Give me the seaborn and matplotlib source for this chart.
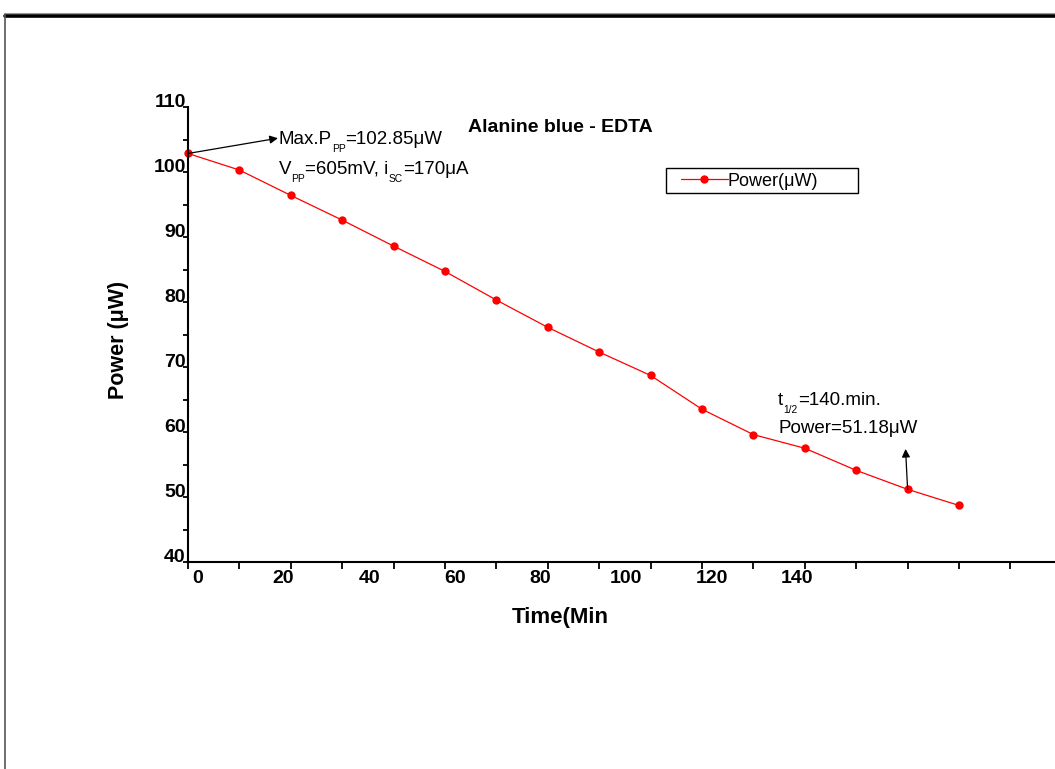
import matplotlib
matplotlib.use("Agg")
import matplotlib.pyplot as plt
from matplotlib.lines import Line2D
from matplotlib.patches import Rectangle
import seaborn as sns
import pandas as pd

# Power decay of the Alanine blue - EDTA photogalvanic cell
time_min = [0, 10, 20, 30, 40, 50, 60, 70, 80, 90, 100, 110, 120, 130, 140, 150]
power_uw = [102.85, 100.3, 96.4, 92.6, 88.6, 84.7, 80.3, 76.1, 72.3, 68.7,
            63.5, 59.6, 57.5, 54.1, 51.18, 48.7]

y_ticks = [40, 50, 60, 70, 80, 90, 100, 110]
x_tick_labels = ["0", "20", "40", "60", "80", "100", "120", "140"]

sns.set_theme(style="ticks")
plt.rcParams["font.family"] = ["Liberation Sans", "DejaVu Sans"]
for key in ("text.color", "axes.labelcolor", "xtick.color", "ytick.color"):
    plt.rcParams[key] = "black"

W, H = 1055, 769
fig = plt.figure(figsize=(W / 100, H / 100), dpi=100)
fig.patch.set_facecolor("white")

# axes: x=0 at px 188, 10 min = 51.4 px; y=40 at px 562, y=110 at px 107
x0, x1 = 0, 170
left_px, right_px = 188, 188 + 5.14 * (x1 - x0)
bottom_px, top_px = 562, 107
ax = fig.add_axes([left_px / W, 1 - bottom_px / H,
                   (right_px - left_px) / W, (bottom_px - top_px) / H])

df = pd.DataFrame({"Time(Min": time_min, "Power(μW)": power_uw})
sns.lineplot(data=df, x="Time(Min", y="Power(μW)", ax=ax, color="#ff0000",
             linewidth=0.9, marker="o", markersize=6, markeredgewidth=0,
             label="Power(μW)", clip_on=False)

ax.set_xlim(x0, x1)
ax.set_ylim(40, 110)

sns.despine(ax=ax)
for side in ("left", "bottom"):
    ax.spines[side].set_linewidth(1.5)
    ax.spines[side].set_color("black")

# x axis: tick marks every 10 min, labels spaced independently
ax.set_xticks(list(range(0, 170, 10)))
ax.set_xticklabels([])
ax.tick_params(axis="x", which="major", direction="out", length=5, width=1.3,
               color="black")
label_pos = [1.95 + 16.65 * i for i in range(len(x_tick_labels))]
ax.set_xticks(label_pos, labels=x_tick_labels, minor=True)
ax.tick_params(axis="x", which="minor", length=0, pad=5.5, labelsize=14)
for lbl in ax.get_xticklabels(minor=True):
    lbl.set_fontweight("bold")

# y axis
ax.set_yticks(y_ticks, labels=[str(v) for v in y_ticks])
ax.set_yticks([45, 55, 65, 75, 85, 95, 105], minor=True)
ax.tick_params(axis="y", which="major", direction="out", length=3.6, width=1.3,
               pad=-2.0, labelsize=14, color="black")
ax.tick_params(axis="y", which="minor", direction="out", length=3.6, width=1.3,
               color="black")
for lbl in ax.get_yticklabels():
    lbl.set_fontweight("bold")
    lbl.set_verticalalignment("baseline")

ax.set_xlabel("Time(Min", fontsize=16, fontweight="bold", labelpad=0)
ax.xaxis.set_label_coords((560 - left_px) / (right_px - left_px),
                          (bottom_px - 607) / (bottom_px - top_px))
ax.set_ylabel("Power (μW)", fontsize=15.5, fontweight="bold")
ax.yaxis.set_label_coords((129 - left_px) / (right_px - left_px),
                          (bottom_px - 340) / (bottom_px - top_px))

ax.text(72.4, 106.9, "Alanine blue - EDTA", fontsize=14, fontweight="bold",
        ha="center", va="center")


def rich_text(x, y, parts, size=13.5):
    """Draw text pieces left to right on one baseline; flagged pieces as subscripts."""
    prev = ax.text(x, y, parts[0][0], fontsize=size, ha="left", va="baseline")
    for s, sub in parts[1:]:
        if sub:
            prev = ax.annotate(s, xy=(1, y), xycoords=(prev, "data"),
                               xytext=(0.2, -0.3), textcoords="offset points",
                               fontsize=size * 0.55, ha="left", va="top")
        else:
            prev = ax.annotate(s, xy=(1, y), xycoords=(prev, "data"),
                               fontsize=size, ha="left", va="baseline")


# annotations
ax.annotate("", xy=(17.5, 105.2), xytext=(time_min[0], power_uw[0]),
            arrowprops=dict(arrowstyle="-|>", color="black", lw=0.9,
                            mutation_scale=12, shrinkA=0, shrinkB=0))
rich_text(17.6, 104.3, [("Max.P", False), ("PP", True), ("=102.85μW", False)])
rich_text(17.6, 99.7, [("V", False), ("PP", True), ("=605mV, i", False),
                       ("SC", True), ("=170μA", False)])

ax.annotate("", xy=(139.6, 57.4), xytext=(time_min[14], power_uw[14]),
            arrowprops=dict(arrowstyle="-|>", color="black", lw=0.9,
                            mutation_scale=12, shrinkA=0, shrinkB=0))
rich_text(114.8, 64.15, [("t", False), ("1/2", True), ("=140.min.", False)])
rich_text(114.8, 59.8, [("Power=51.18μW", False)])

# legend: entry without frame, box drawn separately
leg = ax.legend(loc="center left", bbox_to_anchor=(681 / W, 1 - 181 / H),
                bbox_transform=fig.transFigure, borderaxespad=0, borderpad=0,
                frameon=False, fontsize=13, handlelength=2.6,
                handletextpad=0.0)
fig.add_artist(Rectangle((665.7 / W, 1 - 193 / H), (858 - 665.7) / W, 25 / H,
                         transform=fig.transFigure, fill=False,
                         edgecolor="black", linewidth=1.0))

# page border
fig.add_artist(Line2D([5 / W, 1], [1 - 13 / H, 1 - 13 / H], color="#999999",
                      linewidth=0.8, transform=fig.transFigure))
fig.add_artist(Line2D([5 / W, 1], [1 - 16 / H, 1 - 16 / H], color="black",
                      linewidth=2.6, transform=fig.transFigure))
fig.add_artist(Line2D([5 / W, 5 / W], [0, 1 - 14 / H], color="#555555",
                      linewidth=1.2, transform=fig.transFigure))

fig.savefig("out.png", dpi=100, facecolor="white")
